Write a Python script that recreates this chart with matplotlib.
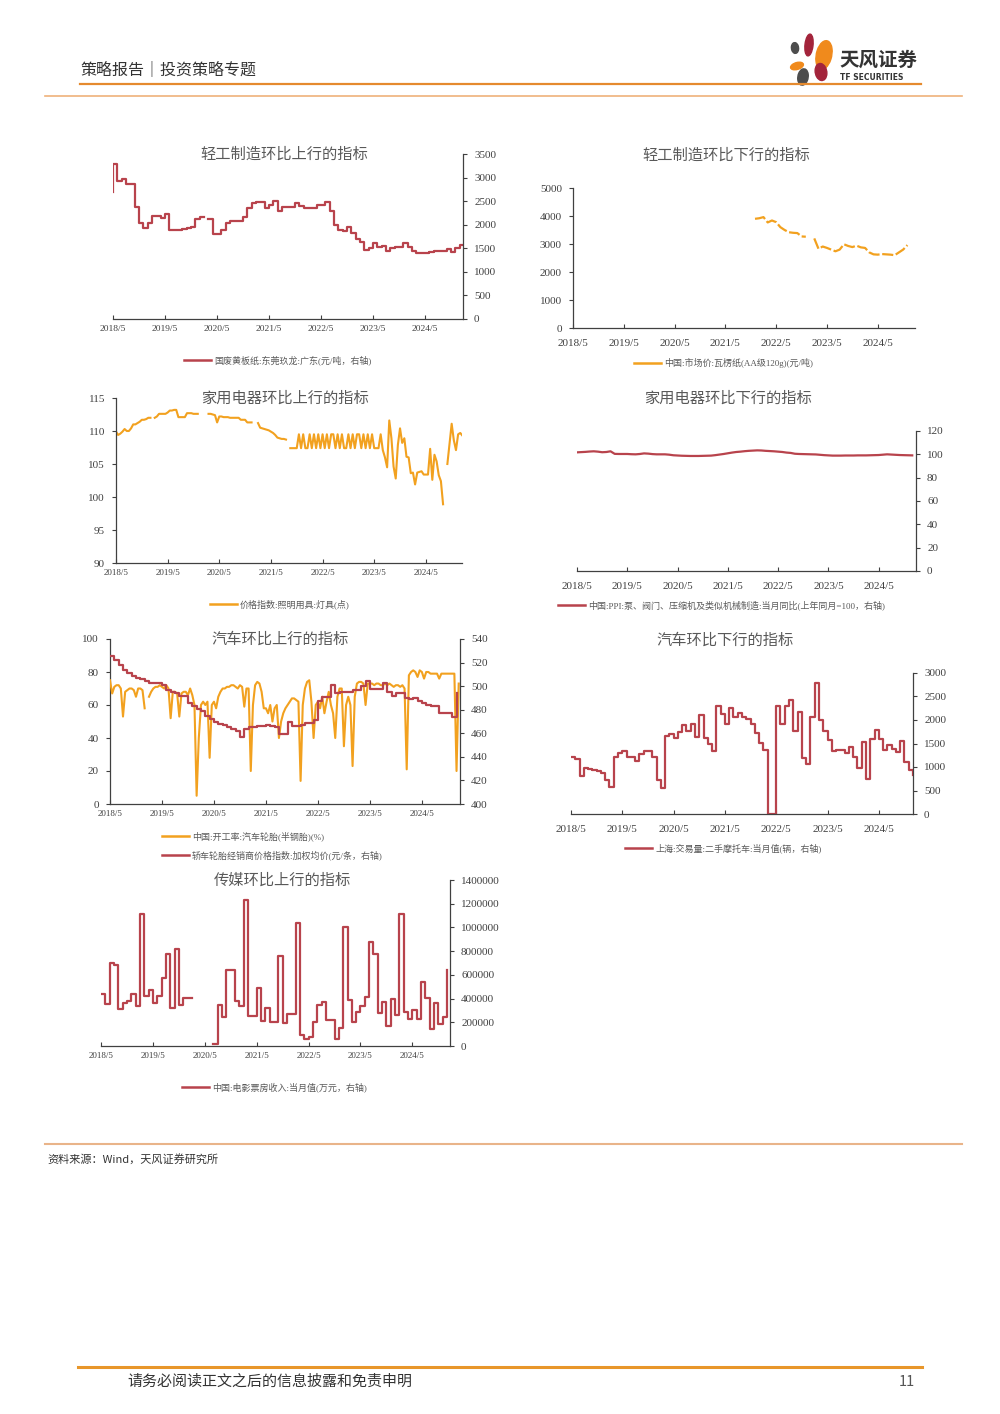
import numpy as np
import matplotlib
matplotlib.use('Agg')
import matplotlib.pyplot as plt
from matplotlib.lines import Line2D
from matplotlib.patches import Ellipse
from matplotlib.ticker import StrMethodFormatter

plt.rcParams['font.family'] = ['Liberation Serif', 'Noto Sans CJK SC', 'DejaVu Sans']

W, H = 1000, 1414
RED = '#B8434C'
ORANGE = '#F2A11F'
GREY = '#595959'
AXC = '#404040'
nan = np.nan

YEAR_TICKS = [0, 12, 24, 36, 48, 60, 72]
YEAR_LABELS = ['2018/5', '2019/5', '2020/5', '2021/5', '2022/5', '2023/5', '2024/5']

# ---- data (month index 0 = 2018/5) ----
# 国废黄板纸:东莞玖龙:广东, level over (i-1, i]
paper_up = [2700, 3280, 2934, 2960, 2870, 2870, 2380, 2030, 1920, 2030,
            2185, 2185, 2140, 2227, 1890, 1885, 1890, 1900, 1930, 1950,
            2120, 2170, nan, 2120, 1795, 1800, 1890, 2030, 2085, 2085,
            2085, 2170, 2350, 2453, 2475, 2475, 2350, 2420, 2510, 2298,
            2380, 2370, 2370, 2453, 2397, 2347, 2347, 2347, 2420, 2420,
            2490, 2290, 1994, 1888, 1870, 1960, 1817, 1697, 1640, 1463,
            1500, 1605, 1520, 1550, 1450, 1500, 1534, 1534, 1605, 1520,
            1442, 1407, 1407, 1407, 1420, 1450, 1450, 1450, 1478, 1430,
            1500, 1560]

# 中国:市场价:瓦楞纸(AA级120g), monthly
paper_down = [nan] * 43 + [3900, 3920, 3960, 3770, 3840, 3780, 3600, 3500, 3420, 3400,
                           3390, 3270, 3260, nan, 3200, 2830, 2910, 2860, 2800, 2740,
                           2800, 2990, 2930, 2890, 2940, 2880, 2860, 2700, 2630, 2620,
                           2640, 2630, 2620, 2600, 2700, 2800, 2960]

# 价格指数:照明用具:灯具, half-monthly
light = [
    109.9, 109.4, 109.6, 109.9, 110.3, 110.0, 110.0, 110.4, 111.0, 111.0, 111.2, 111.4,
    111.7, 111.7, 111.8, 112.0, 112.0, nan, 112.0, 112.2, 112.6, 112.6, 112.6, 112.6,
    112.8, 113.1, 113.1, 113.2, 113.2, 112.1, 112.1, 112.1, 112.1, 112.7, 112.7, 112.7,
    112.6, 112.6, 112.6, nan, nan, nan, nan, 112.6, 112.6, 112.5, 112.4, 111.3,
    112.2, 112.2, 112.1, 112.1, 112.1, 112.0, 112.0, 112.0, 112.0, 112.0, 111.7, 111.7,
    111.7, 111.3, 111.3, 111.3, nan, nan, 111.2, 110.5, 110.4, 110.3, 110.2, 110.1,
    109.9, 109.7, 109.4, 109.0, 108.9, 108.8, 108.8, 108.7, nan, 107.4, 107.4, 107.4,
    107.4, 109.5, 107.4, 109.5, 107.4, 107.4, 109.5, 107.4, 109.5, 107.4, 109.5, 107.4,
    109.5, 107.4, 109.5, 107.4, 109.5, 109.5, 107.4, 109.5, 107.4, 109.5, 107.4, 107.4,
    109.5, 107.4, 109.5, 107.4, 109.5, 109.5, 107.4, 109.5, 107.4, 109.5, 107.4, 109.5,
    107.4, 107.4, 107.4, 109.5, 107.1, 106.0, 104.5, 111.6, 108.9, 104.6, 102.8, 107.9,
    110.4, 108.2, 108.9, 106.1, 106.0, 103.6, 103.7, 101.9, 103.7, 103.8, 103.9, 103.4,
    103.4, 103.4, 107.3, 102.6, 106.4, 105.4, 103.3, 102.4, 98.9, nan, 105.0, 108.0,
    111.1, 108.6, 107.1, 109.5, 109.7, 109.3,
]

# 中国:PPI:泵、阀门、压缩机及类似机械制造:当月同比, monthly
ppi = [101.7, 101.9, 102.1, 102.4, 102.6, 102.3, 101.8, 102.0, 102.6, 100.4, 100.3, 100.3,
       100.3, 100.1, 100.0, 100.3, 100.8, 100.6, 100.2, 100.0, 100.0, 100.0, 99.7, 99.2,
       99.0, 98.8, 98.7, 98.6, 98.6, 98.6, 98.7, 98.8, 98.9, 99.3, 99.8, 100.3,
       100.9, 101.5, 102.0, 102.3, 102.7, 103.0, 103.2, 103.4, 103.3, 103.0, 102.8, 102.6,
       102.3, 102.0, 101.5, 101.2, 100.5, 100.3, 100.2, 100.1, 100.0, 99.9, 99.6, 99.3,
       99.1, 98.9, 98.9, 98.9, 99.0, 99.0, 99.0, 99.1, 99.1, 99.1, 99.2, 99.3,
       99.4, 99.7, 100.0, 99.8, 99.6, 99.4, 99.3, 99.2, 99.1]

# 中国:开工率:汽车轮胎(半钢胎), half-monthly
tire_rate = [
    75, 67, 71, 72, 72, 70, 53, 68, 69, 70, 70, 69,
    65, 70, 70, 69, 58, nan, 65, 68, 70, 71, 71, 72,
    71, 70, 72, 70, 52, 68, 68, 67, 53, 67, 68, 68,
    66, 70, 66, 60, 5, 40, 60, 62, 60, 62, 28, 60,
    62, 58, 65, 68, 70, 70, 71, 71, 72, 72, 71, 70,
    72, 71, 59, 70, 70, 20, 60, 72, 74, 73, 68, 58,
    58, 55, 60, 50, 58, 60, 40, 50, 55, 58, 60, 62,
    64, 64, 63, 62, 14, 60, 70, 74, 75, 62, 40, 60,
    62, 58, 65, 55, 62, 68, 60, 55, 40, 65, 70, 70,
    35, 60, 65, 60, 23, 65, 73, 74, 74, 73, 60, 73,
    73, 73, 72, 73, 73, 72, 72, 73, 72, 73, 72, 71,
    72, 72, 71, 72, 70, 21, 78, 80, 81, 80, 77, 81,
    80, 76, 80, 80, 79, 79, 79, 79, 76, 79, 79, 79,
    79, 79, 79, 79, 20, 73,
]

# 轿车轮胎经销商价格指数:加权均价, monthly
tire_price = [526, 522, 518, 514, 511, 509, 507, 506, 504, 503, 503, 503,
              501, 497, 495, 494, 492, 492, 486, 483, 481, 479, 475, 472,
              470, 468, 467, 465, 464, 462, 457, 464, 465, 465, 466, 466,
              467, 466, 465, 459, 459, 470, 466, 466, 467, 469, 469, 471,
              487, 491, 491, 501, 494, 495, 495, 495, 497, 497, 500, 504,
              498, 498, 498, 503, 495, 492, 494, 494, 490, 489, 490, 487,
              486, 484, 483, 483, 477, 477, 477, 474, 494]

# 上海:交易量:二手摩托车:当月值, monthly
moto = [1210, 1175, 800, 970, 955, 940, 920, 870, 720, 570,
        1210, 1294, 1330, 1209, 1209, 1138, 1273, 1344, 1330, 1209,
        725, 547, 1650, 1700, 1614, 1742, 1898, 1756, 1920, 1628,
        2112, 1614, 1486, 1344, 2290, 2126, 1920, 2254, 2055, 2147,
        2055, 2026, 1913, 1720, 1507, 1370, 0, 0, 2290, 1920,
        2290, 2432, 1770, 2169, 1187, 1060, 2055, 2787, 2005, 1756,
        1578, 1344, 1365, 1365, 1294, 1436, 1223, 988, 1529, 747,
        1600, 1792, 1600, 1365, 1458, 1380, 1315, 1543, 1116, 939,
        832]

# 中国:电影票房收入:当月值(万元), monthly
box_office = [437e3, 358e3, 701e3, 687e3, 310e3, 366e3, 377e3, 437e3, 338e3, 1113e3,
              420e3, 470e3, 366e3, 422e3, 575e3, 780e3, 321e3, 817e3, 349e3, 408e3,
              408e3, nan, nan, nan, nan, nan, 20e3, 344e3, 245e3, 640e3,
              640e3, 380e3, 335e3, 1231e3, 251e3, 251e3, 490e3, 211e3, 321e3, 203e3,
              203e3, 760e3, 194e3, 273e3, 273e3, 1034e3, 96e3, 56e3, 76e3, 203e3,
              349e3, 372e3, 223e3, 223e3, 56e3, 155e3, 1006e3, 386e3, 203e3, 287e3,
              338e3, 414e3, 873e3, 772e3, 282e3, 372e3, 169e3, 400e3, 259e3, 1110e3,
              287e3, 225e3, 301e3, 225e3, 541e3, 406e3, 146e3, 366e3, 189e3, 245e3,
              640e3]

fig = plt.figure(figsize=(W / 100, H / 100), dpi=100)


def fx(x):
    return x / W


def fy(y):
    return 1 - y / H


def add_ax(l, t, r, b):
    return fig.add_axes([l / W, 1 - b / H, (r - l) / W, (b - t) / H])


def style_ax(ax, side, xmax, xsize, ysize, xpad):
    ax.set_facecolor('none')
    for s in ax.spines.values():
        s.set_visible(False)
    ax.spines['bottom'].set_visible(True)
    ax.spines[side].set_visible(True)
    for s in ('bottom', side):
        ax.spines[s].set_color(AXC)
        ax.spines[s].set_linewidth(0.9)
    ax.set_xlim(0, xmax)
    ax.set_xticks(YEAR_TICKS)
    ax.set_xticklabels(YEAR_LABELS)
    ax.tick_params(axis='x', direction='in', length=3, width=0.8, color=AXC,
                   labelsize=xsize, labelcolor=AXC, pad=xpad)
    if side == 'right':
        ax.yaxis.tick_right()
    else:
        ax.yaxis.tick_left()
    ax.tick_params(axis='y', direction='out', length=3, width=0.8, color=AXC,
                   labelsize=ysize, labelcolor=AXC, pad=5)


def title(x, y, text):
    fig.text(fx(x), fy(y), text, ha='center', va='center', fontsize=11,
             color=GREY, family=['Noto Sans CJK SC', 'DejaVu Sans'])


def legend_item(x0, y, text, color, size=6.5):
    fig.add_artist(Line2D([fx(x0), fx(x0 + 27)], [fy(y), fy(y)], color=color, lw=1.8))
    fig.text(fx(x0 + 30), fy(y), text, ha='left', va='center', fontsize=size, color=GREY)


# ---- chart 1: 轻工制造环比上行的指标 ----
ax1 = add_ax(113, 154, 463, 319)
ax1.plot(np.arange(len(paper_up)), paper_up, color=RED, lw=1.6, drawstyle='steps-pre')
style_ax(ax1, 'right', 80.8, 6.8, 8, 4)
ax1.set_ylim(0, 3500)
ax1.set_yticks(range(0, 3501, 500))
title(284, 154, '轻工制造环比上行的指标')
legend_item(184, 360, '国废黄板纸:东莞玖龙:广东(元/吨，右轴)', RED)

# ---- chart 2: 轻工制造环比下行的指标 ----
ax2 = add_ax(573, 188, 915, 328)
ax2.plot(np.arange(len(paper_down)), paper_down, color=ORANGE, lw=1.6,
         linestyle=(0, (5, 1.2)))
style_ax(ax2, 'left', 80.8, 8, 8, 8)
ax2.set_ylim(0, 5000)
ax2.set_yticks(range(0, 5001, 1000))
title(726, 155, '轻工制造环比下行的指标')
legend_item(634, 363, '中国:市场价:瓦楞纸(AA级120g)(元/吨)', ORANGE)

# ---- chart 3: 家用电器环比上行的指标 ----
ax3 = add_ax(116, 398, 462, 563)
ax3.plot(np.arange(len(light)) / 2, light, color=ORANGE, lw=1.5)
style_ax(ax3, 'left', 80.4, 6.5, 8, 4)
ax3.set_ylim(90, 115)
ax3.set_yticks(range(90, 116, 5))
title(285, 398, '家用电器环比上行的指标')
legend_item(210, 604, '价格指数:照明用具:灯具(点)', ORANGE)

# ---- chart 4: 家用电器环比下行的指标 ----
ax4 = add_ax(577, 431, 916, 571)
ax4.plot(np.arange(len(ppi)), ppi, color=RED, lw=1.6)
style_ax(ax4, 'right', 80.9, 8, 8, 8)
ax4.set_ylim(0, 120)
ax4.set_yticks(range(0, 121, 20))
title(728, 398, '家用电器环比下行的指标')
legend_item(558, 605, '中国:PPI:泵、阀门、压缩机及类似机械制造:当月同比(上年同月=100，右轴)', RED)

# ---- chart 5: 汽车环比上行的指标 ----
ax5 = add_ax(110, 639, 460, 804)
ax5.plot(np.arange(len(tire_rate)) / 2, tire_rate, color=ORANGE, lw=1.5, zorder=3)
style_ax(ax5, 'left', 80.8, 6.5, 8, 4)
ax5.set_ylim(0, 100)
ax5.set_yticks(range(0, 101, 20))
ax5b = ax5.twinx()
ax5b.plot(np.arange(len(tire_price)), tire_price, color=RED, lw=1.6,
          drawstyle='steps-post', zorder=2)
for s in ax5b.spines.values():
    s.set_visible(False)
ax5b.spines['right'].set_visible(True)
ax5b.spines['right'].set_color(AXC)
ax5b.spines['right'].set_linewidth(0.9)
ax5b.set_ylim(400, 540)
ax5b.set_yticks(range(400, 541, 20))
ax5b.tick_params(axis='y', direction='out', length=3, width=0.8, color=AXC,
                 labelsize=8, labelcolor=AXC, pad=5)
title(280, 639, '汽车环比上行的指标')
legend_item(162, 836, '中国:开工率:汽车轮胎(半钢胎)(%)', ORANGE)
legend_item(162, 855, '轿车轮胎经销商价格指数:加权均价(元/条，右轴)', RED)

# ---- chart 6: 汽车环比下行的指标 ----
ax6 = add_ax(571, 673, 913, 814)
ax6.plot(np.arange(len(moto)), moto, color=RED, lw=1.6, drawstyle='steps-post')
style_ax(ax6, 'right', 80.0, 8, 8, 8)
ax6.set_ylim(0, 3000)
ax6.set_yticks(range(0, 3001, 500))
title(725, 640, '汽车环比下行的指标')
legend_item(625, 848, '上海:交易量:二手摩托车:当月值(辆，右轴)', RED)

# ---- chart 7: 传媒环比上行的指标 ----
ax7 = add_ax(101, 880, 450, 1046)
ax7.plot(np.arange(len(box_office)), box_office, color=RED, lw=1.6, drawstyle='steps-post')
style_ax(ax7, 'right', 80.7, 6.5, 8, 4)
ax7.set_ylim(0, 1400000)
ax7.set_yticks(range(0, 1400001, 200000))
ax7.yaxis.set_major_formatter(StrMethodFormatter('{x:.0f}'))
title(282, 880, '传媒环比上行的指标')
legend_item(182, 1087, '中国:电影票房收入:当月值(万元，右轴)', RED)

# ---- page decoration ----
CJK = ['Noto Sans CJK SC', 'DejaVu Sans']
fig.text(fx(80), fy(70), '策略报告｜投资策略专题', ha='left', va='center',
         fontsize=11.5, color='#333333', family=CJK)
fig.add_artist(Line2D([fx(80), fx(921)], [fy(84), fy(84)], color='#E58A2E', lw=1.6))
fig.add_artist(Line2D([fx(45), fx(962)], [fy(96), fy(96)], color='#EFB27A', lw=1.2))

# logo petals
for (cx, cy, w, h, ang, c) in [(809, 45, 8, 22, -10, '#A3243B'),
                               (824, 55, 15, 30, -25, '#F08A1C'),
                               (795, 48, 7, 11, 30, '#4D4D4D'),
                               (797, 66, 13, 7, 10, '#F08A1C'),
                               (821, 72, 11, 18, 40, '#A3243B'),
                               (803, 77, 10, 17, -30, '#4D4D4D')]:
    fig.add_artist(Ellipse((fx(cx), fy(cy)), w / W, h / H, angle=ang, color=c,
                           transform=fig.transFigure))
fig.text(fx(839), fy(60), '天风证券', ha='left', va='center', fontsize=14,
         fontweight='bold', color='#333333', family=CJK)
fig.text(fx(840), fy(77), 'TF SECURITIES', ha='left', va='center', fontsize=5.5,
         fontweight='bold', color='#333333', family=['DejaVu Sans'])

fig.add_artist(Line2D([fx(45), fx(962)], [fy(1144), fy(1144)], color='#E9B489', lw=1.5))
fig.text(fx(47), fy(1159), '资料来源：Wind，天风证券研究所', ha='left', va='center',
         fontsize=8, color='#333333', family=CJK)

fig.add_artist(Line2D([fx(78), fx(922)], [fy(1367), fy(1367)], color='#E8962A', lw=2.2))
fig.text(fx(127), fy(1382), '请务必阅读正文之后的信息披露和免责申明', ha='left', va='center',
         fontsize=10.8, color='#333333', family=CJK)
fig.text(fx(915), fy(1382), '11', ha='right', va='center', fontsize=10.5,
         color='#555555', family=CJK)

fig.savefig('out.png', dpi=100)
